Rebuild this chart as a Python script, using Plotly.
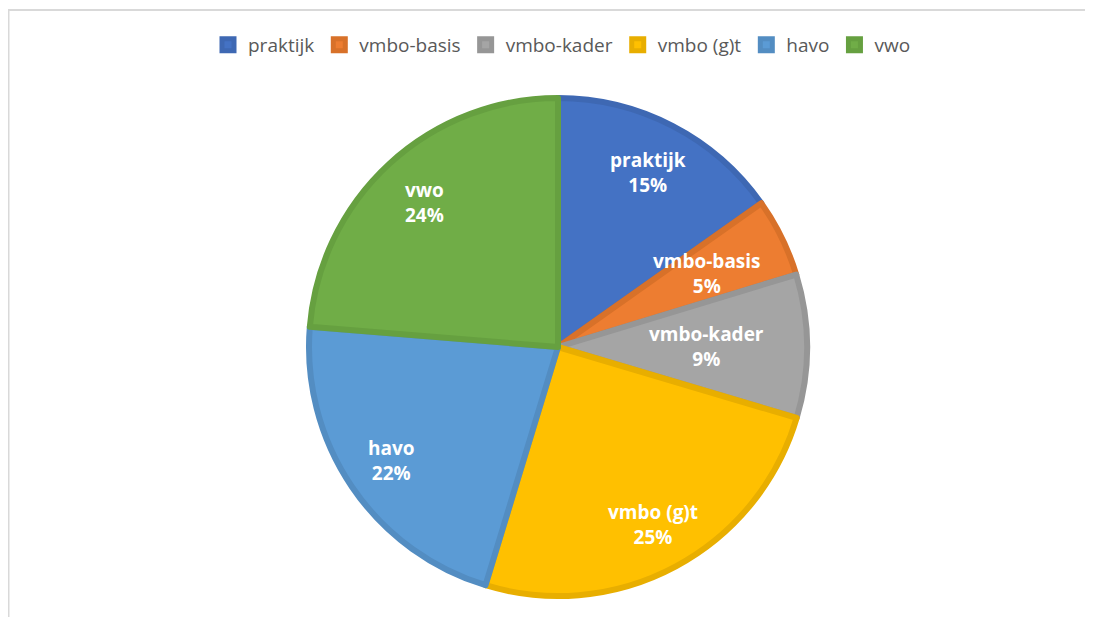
import math
import plotly.graph_objects as go

categories = ["praktijk", "vmbo-basis", "vmbo-kader", "vmbo (g)t", "havo", "vwo"]
values = [15.2, 5.1, 9.3, 25.1, 21.6, 23.7]

colors = ["#4472C4", "#ED7D31", "#A5A5A5", "#FFC000", "#5B9BD5", "#70AD47"]
edge_colors = ["#3E68B3", "#D87129", "#969696", "#E8AE00", "#538DC2", "#66A040"]
label_radius = [0.78, 0.66, 0.59, 0.80, 0.80, 0.78]

# the page body has an 8px margin; figure coordinates are page coordinates minus 8
OFF = 8
W, H = 1093 - OFF, 617 - OFF
cx, cy = 558 - OFF, 347 - OFF
R_out = 252
LW = 6
R = R_out - LW / 2

fig = go.Figure(go.Pie(
    labels=categories,
    values=values,
    sort=False,
    direction="clockwise",
    rotation=0,
    marker=dict(colors=colors, line=dict(color=edge_colors, width=LW)),
    textinfo="none",
    hoverinfo="label+percent",
    domain=dict(x=[(cx - R) / W, (cx + R) / W], y=[1 - (cy + R) / H, 1 - (cy - R) / H]),
))

total = sum(values)
cum = 0.0
annotations = []
for name, v, f in zip(categories, values, label_radius):
    mid = (cum + v / 2) / total * 2 * math.pi
    cum += v
    px = cx + f * R_out * math.sin(mid)
    py = cy - f * R_out * math.cos(mid)
    pct = round(v / total * 100)
    annotations.append(dict(
        x=px / W, y=1 - py / H, xref="paper", yref="paper",
        text=f"<b>{name}</b><br><b>{pct}%</b>", showarrow=False,
        font=dict(family="Open Sans", size=19, color="white"),
        xanchor="center", yanchor="middle", align="center",
    ))

fig.update_layout(
    width=W, height=H,
    margin=dict(l=0, r=0, t=0, b=0),
    paper_bgcolor="white",
    plot_bgcolor="white",
    showlegend=True,
    legend=dict(
        orientation="h", x=(562 - OFF) / W, xanchor="center", y=1 - (45 - OFF) / H, yanchor="middle",
        font=dict(family="Open Sans", size=19, color="#595959"),
        traceorder="normal", itemwidth=30,
    ),
    annotations=annotations,
    shapes=[dict(
        type="rect", xref="paper", yref="paper",
        x0=0.5 / W, x1=1.02, y0=-0.02, y1=1 - 2 / H,
        line=dict(color="#D9D9D9", width=2), fillcolor="rgba(0,0,0,0)", layer="below",
    )],
)

fig.write_html("out.html")
